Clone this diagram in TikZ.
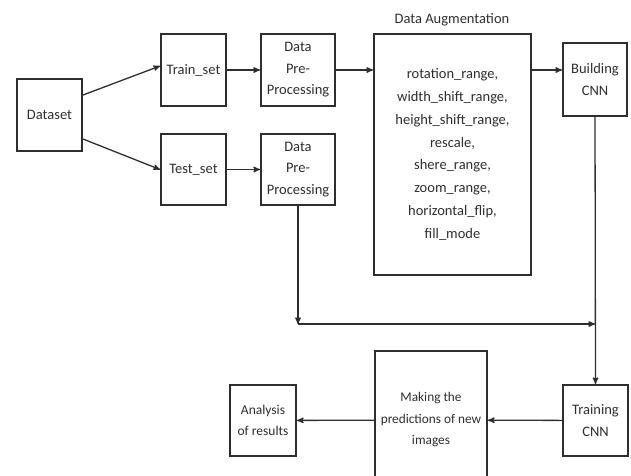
\documentclass[tikz,border=0pt]{standalone}
\usepackage{fontspec}
\setmainfont{Carlito}
\usepackage{tikz}
\usetikzlibrary{arrows}
\usetikzlibrary{calc}
\definecolor{ink}{HTML}{2E2E2E}
\tikzstyle{box} = [draw=ink,line width=2pt,align=center,text=ink,inner sep=2pt,
  font=\fontsize{14.5}{21.5}\selectfont]
\tikzstyle{link} = [->,draw=ink,line width=1.3pt]

\begin{document}
\begin{tikzpicture}[x=1pt,y=-1pt,>=stealth']
\useasboundingbox (0,0) rectangle (631,475);
\clip (0,0) rectangle (631,475);

% Draw blocks
    \node[box,minimum width=65pt,minimum height=72pt] at (49.5,115) (data) {Dataset};
    \node[box,minimum width=65pt,minimum height=72pt] at (193.5,70) (trainset) {Train\_set};
    \node[box,minimum width=65pt,minimum height=71pt] at (193.5,169.5) (testset) {Test\_set};
    \node[box,minimum width=74pt,minimum height=72pt] at (298,70) (pre1) {Data\\Pre-\\Processing};
    \node[box,minimum width=74pt,minimum height=71pt] at (298,169.5) (pre2) {Data\\Pre-\\Processing};
    \node[box,minimum width=157pt,minimum height=241pt,
      font=\fontsize{14.5}{22.9}\selectfont] at (452.5,154.5) (aug)
      {rotation\_range,\\width\_shift\_range,\\height\_shift\_range,\\rescale,\\shere\_range,\\zoom\_range,\\horizontal\_flip,\\fill\_mode};
    \node[text=ink,font=\fontsize{14.5}{21}\selectfont] at (452,20) (augtitle) {Data Augmentation};
    \node[box,minimum width=64pt,minimum height=73pt] at (595,79.5) (build) {Building\\CNN};
    \node[box,minimum width=65pt,minimum height=71pt] at (595.5,420.5) (traincnn) {Training\\CNN};
    \node[box,inner xsep=0pt,minimum width=112pt,minimum height=138pt,
      font=\fontsize{13.3}{21.5}\selectfont] at (431,420) (predict) {Making the\\predictions of new\\images};
    \node[box,minimum width=66pt,minimum height=71pt,
      font=\fontsize{13.5}{21.5}\selectfont] at (263,420.5) (analysis) {Analysis\\of results};

% Draw connectors
    \coordinate (junc) at ($(pre2.south)+(0,118)$);
    \coordinate (jbuild) at (build.south |- junc);
    \draw[link] ([yshift=20pt]data.east) -- ([yshift=4pt]trainset.west);
    \draw[link] ([yshift=-24pt]data.east) -- (testset.west);
    \draw[link] (trainset) -- (pre1);
    \draw[link] (testset) -- (pre2);
    \draw[link] (pre1.east) -- (pre1.east -| aug.west);
    \draw[link] (aug.east |- pre1) -- (build.west |- pre1);
    \draw[link] (pre2.south) -- (junc);
    \draw[link] (junc) -- (jbuild);
    \draw[link] (build.south) -- (traincnn.north);
    \draw[link] (traincnn) -- (predict);
    \draw[link] (predict) -- (analysis);

\end{tikzpicture}
\end{document}
